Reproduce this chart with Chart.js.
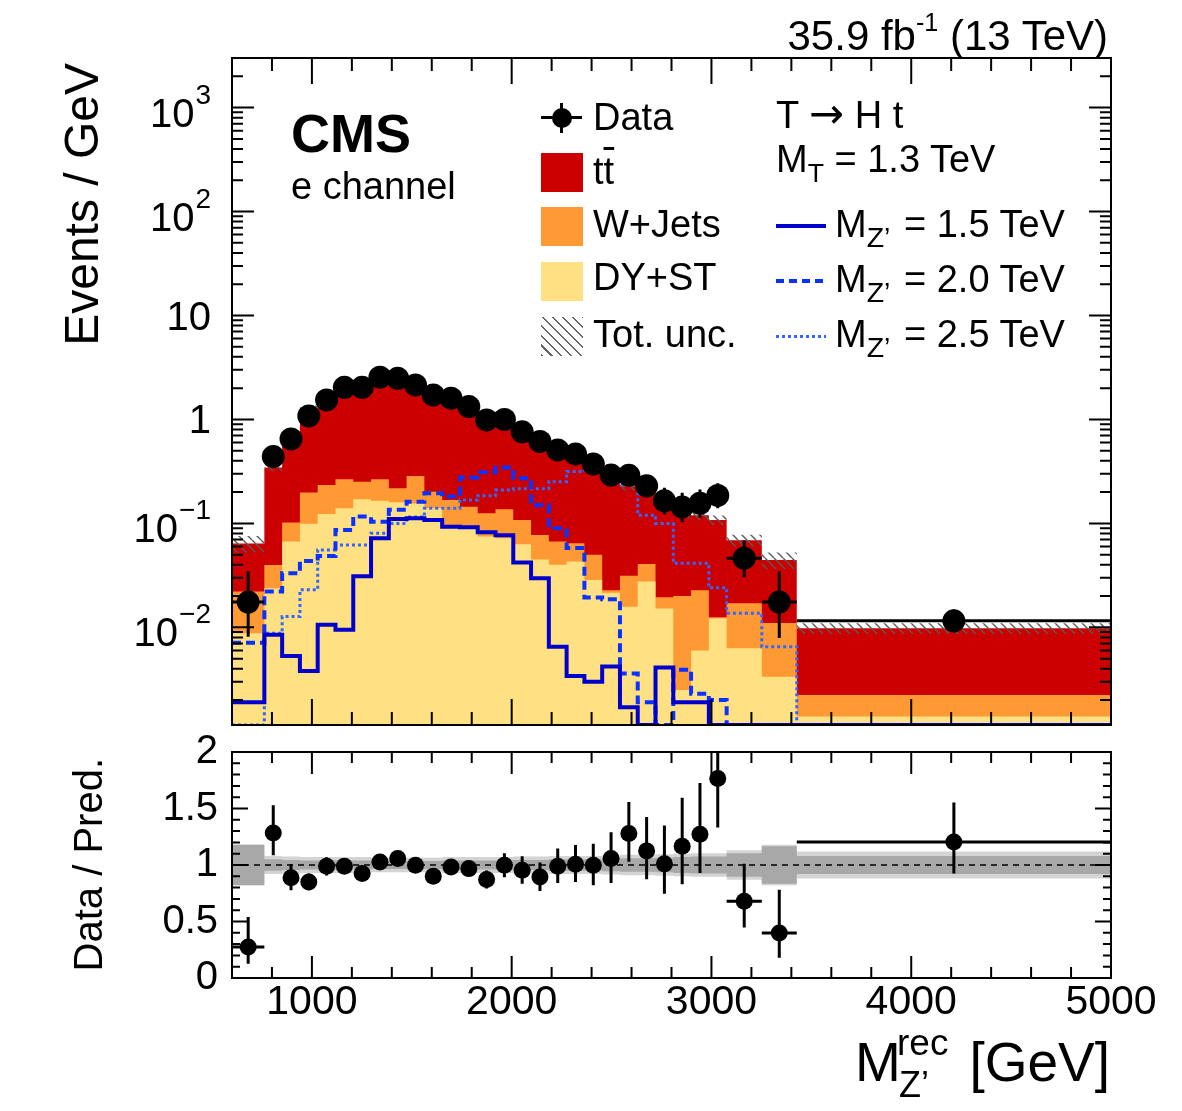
<!DOCTYPE html>
<html>
<head>
<meta charset="utf-8">
<title>M_Z' rec - e channel</title>
<script src="https://cdn.jsdelivr.net/npm/chart.js@4.4.1/dist/chart.umd.min.js"></script>
<style>
  body { margin: 0; background: #fff; font-family: "Liberation Sans", Arial, Helvetica, sans-serif; color: #000; }
  #page { position: relative; width: 1182px; height: 1111px; overflow: hidden; }
  canvas { position: absolute; left: 0; }
  .t { position: absolute; white-space: nowrap; line-height: 1; }
  .leg { font-size: 38px; }
  .box { position: absolute; left: 541px; width: 42px; height: 39px; }
  .sub { font-size: 0.7em; position: relative; top: 0.36em; }
  .subz { font-size: 0.75em; position: relative; top: 0.36em; margin-right: 3px; }
  .arrow { font-family: "DejaVu Sans", sans-serif; font-size: 1.1em; line-height: 0.9; }
  .rot { transform-origin: 0 0; transform: rotate(-90deg); text-align: right; }
  .sline { position: absolute; left: 776px; width: 50px; }
</style>
</head>
<body>
<div id="page">
  <canvas id="mainChart" width="1182" height="740" style="top:0"></canvas>
  <canvas id="ratioChart" width="1182" height="391" style="top:720px"></canvas>

  <div class="t" style="right:74px; top:15px; font-size:42px;">35.9 fb<span style="font-size:0.6em; position:relative; top:-0.75em;">-1</span> (13 TeV)</div>
  <div class="t" style="left:291px; top:106px; font-size:54px; font-weight:bold;">CMS</div>
  <div class="t" style="left:291px; top:167px; font-size:38px;">e channel</div>

  <!-- legend, left column -->
  <div style="position:absolute; left:541px; top:116px; width:41px; height:3px; background:#000;"></div>
  <div style="position:absolute; left:560px; top:103px; width:3px; height:30px; background:#000;"></div>
  <div style="position:absolute; left:552px; top:108px; width:20px; height:20px; border-radius:50%; background:#000;"></div>
  <div class="t leg" style="left:593px; top:98px;">Data</div>
  <div class="box" style="top:153px; background:#cc0000;"></div>
  <div class="t leg" style="left:593px; top:152px;">t<span style="text-decoration:overline;">t</span></div>
  <div class="box" style="top:207px; background:#ff9933;"></div>
  <div class="t leg" style="left:593px; top:205px;">W+Jets</div>
  <div class="box" style="top:262px; background:#ffe083;"></div>
  <div class="t leg" style="left:593px; top:258px;">DY+ST</div>
  <div class="box" style="top:317px; background:repeating-linear-gradient(45deg, #666 0 1.5px, transparent 1.5px 7px);"></div>
  <div class="t leg" style="left:593px; top:315px;">Tot. unc.</div>

  <!-- legend, right column -->
  <div class="t leg" style="left:776px; top:95px;">T <span class="arrow">→</span> H t</div>
  <div class="t leg" style="left:776px; top:140px;">M<span class="sub">T</span> = 1.3 TeV</div>
  <div class="sline" style="top:224px; height:4px; background:#0000cc;"></div>
  <div class="t leg" style="left:835px; top:205px;">M<span class="subz">Z’</span> = 1.5 TeV</div>
  <div class="sline" style="top:279px; height:4px; background:repeating-linear-gradient(90deg, #0a32ff 0 8px, transparent 8px 13px);"></div>
  <div class="t leg" style="left:835px; top:260px;">M<span class="subz">Z’</span> = 2.0 TeV</div>
  <div class="sline" style="top:335px; height:3px; background:repeating-linear-gradient(90deg, #3366ff 0 3px, transparent 3px 6px);"></div>
  <div class="t leg" style="left:835px; top:315px;">M<span class="subz">Z’</span> = 2.5 TeV</div>

  <!-- axis titles -->
  <div class="t rot" style="left:58px; top:363px; width:300px; font-size:48px;">Events / GeV</div>
  <div class="t rot" style="left:68px; top:1008px; width:250px; font-size:40px;">Data / Pred.</div>
  <div class="t" style="left:855px; top:1035px; font-size:55px;">M</div>
  <div class="t" style="left:897px; top:1024px; font-size:37px;">rec</div>
  <div class="t" style="left:899px; top:1067px; font-size:36px;">Z’</div>
  <div class="t" style="right:72px; top:1035px; font-size:55px;">[GeV]</div>
</div>

<script>
// bin edges [GeV]
const binEdges = [600, 762, 851, 940, 1029, 1118, 1207, 1296, 1385, 1474, 1563, 1652, 1741, 1830, 1919,
  2008, 2097, 2186, 2275, 2364, 2453, 2542, 2631, 2720, 2809, 2898, 2987, 3076, 3252, 3427, 5000];

// events / GeV
const dataVals = [0.0175, 0.439, 0.649, 1.08, 1.54, 2.04, 2.04, 2.55, 2.49, 2.15, 1.72, 1.60, 1.33, 0.99, 1.0,
  0.76, 0.614, 0.509, 0.466, 0.373, 0.292, 0.29, 0.23, 0.165, 0.144, 0.156, 0.186, 0.0463, 0.0175, 0.01155];
const ttbar = [0.0419, 0.305, 0.628, 1.072, 1.326, 1.794, 1.948, 2.214, 2.142, 1.874, 1.698, 1.462, 1.225, 1.015, 0.863,
  0.692, 0.6125, 0.448, 0.3985, 0.324, 0.253, 0.196, 0.163, 0.1445, 0.104, 0.097, 0.0955, 0.0519, 0.0335, 0.00756];
const wjets = [0.0133, 0.0161, 0.0352, 0.099, 0.111, 0.126, 0.081, 0.101, 0.058, 0.131, 0.062, 0.073, 0.055, 0.05, 0.065,
  0.045, 0.0325, 0.0268, 0.0215, 0.0214, 0.0013, 0.0155, 0.0132, 0.0043, 0.0175, 0.0168, 0.0003, 0.0108, 0.00765, 0.00085];
const dyst = [0.0088, 0.0238, 0.0668, 0.099, 0.123, 0.14, 0.171, 0.165, 0.16, 0.155, 0.14, 0.095, 0.09, 0.075, 0.072,
  0.063, 0.045, 0.04, 0.043, 0.0286, 0.0215, 0.0158, 0.0276, 0.0152, 0.0025, 0.006, 0.0122, 0.0063, 0.00335, 0.00139];

// Z' signals (T -> H t, M_T = 1.3 TeV)
const sigM1500 = [0.0019, 0.0085, 0.0053, 0.0038, 0.0106, 0.0095, 0.031, 0.072, 0.11, 0.112, 0.108, 0.093, 0.092, 0.082, 0.077,
  0.042, 0.0297, 0.0065, 0.0034, 0.003, 0.0042, 0.0017, 0, 0.0041, 0.0019, 0.0019, 0, 0, 0, 0];
const sigM2000 = [0.0071, 0.0221, 0.0332, 0.0436, 0.0487, 0.0866, 0.1165, 0.104, 0.135, 0.162, 0.195, 0.181, 0.277, 0.31, 0.345,
  0.272, 0.15, 0.09, 0.058, 0.0194, 0.0186, 0.0036, 0.0019, 0, 0.0039, 0.0023, 0.002, 0, 0, 0];
const sigM2500 = [0, 0.0088, 0.0127, 0.023, 0.0556, 0.062, 0.062, 0.0805, 0.1, 0.115, 0.14, 0.14, 0.168, 0.185, 0.21,
  0.215, 0.215, 0.252, 0.315, 0.33, 0.33, 0.235, 0.12, 0.1, 0.0413, 0.0413, 0.024, 0.0137, 0.0065, 0];

// relative uncertainties (light = total, dark = inner band)
const uncTotal = [0.18, 0.08, 0.075, 0.07, 0.07, 0.07, 0.07, 0.065, 0.065, 0.065, 0.065, 0.07, 0.07, 0.07, 0.07,
  0.075, 0.075, 0.08, 0.08, 0.08, 0.085, 0.09, 0.09, 0.095, 0.1, 0.105, 0.105, 0.13, 0.18, 0.12];
const uncInner = [0.18, 0.05, 0.045, 0.04, 0.04, 0.04, 0.04, 0.035, 0.035, 0.035, 0.035, 0.04, 0.04, 0.04, 0.04,
  0.045, 0.045, 0.05, 0.05, 0.05, 0.055, 0.06, 0.06, 0.065, 0.07, 0.075, 0.075, 0.105, 0.165, 0.08];

// data / prediction
const ratioVals = [0.274, 1.283, 0.888, 0.85, 0.988, 0.988, 0.924, 1.027, 1.057, 0.997, 0.9, 0.982, 0.968, 0.871, 0.997,
  0.953, 0.894, 0.988, 1.006, 0.997, 1.057, 1.278, 1.125, 1.01, 1.165, 1.272, 1.765, 0.679, 0.398, 1.204];
const ratioErrUp = [0.266, 0.245, 0.12, 0.075, 0.08, 0.06, 0.06, 0.06, 0.06, 0.06, 0.06, 0.065, 0.07, 0.08, 0.106,
  0.125, 0.128, 0.157, 0.17, 0.19, 0.233, 0.28, 0.3, 0.34, 0.431, 0.454, 0.55, 0.333, 0.384, 0.348];
const ratioErrDown = [0.147, 0.197, 0.112, 0.074, 0.08, 0.06, 0.06, 0.06, 0.06, 0.06, 0.06, 0.065, 0.07, 0.08, 0.106,
  0.12, 0.124, 0.147, 0.156, 0.177, 0.216, 0.25, 0.25, 0.265, 0.336, 0.343, 0.434, 0.233, 0.218, 0.28];

const yMin = 0.00115, yMax = 3000;
const yDecades = [0.01, 0.1, 1, 10, 100, 1000];
const yDecBase = ['10', '10', '1', '10', '10', '10'];
const yDecExp = ['\u22122', '\u22121', '', '', '2', '3'];
const xLabelTicks = [1000, 2000, 3000, 4000, 5000];
const ratioTicks = [0, 0.5, 1, 1.5, 2];

const FONT = '"Liberation Sans", Arial, Helvetica, sans-serif';
const nBins = binEdges.length - 1;
const centers = dataVals.map((v, i) => (binEdges[i] + binEdges[i + 1]) / 2);

function stepPts(vals, floor) {
  return binEdges.map((e, i) => {
    let v = vals[Math.min(i, nBins - 1)];
    if (floor !== undefined && !(v > floor)) v = floor;
    return { x: e, y: v };
  });
}

const wTop = dyst.map((v, i) => v + wjets[i]);
const totTop = wTop.map((v, i) => v + ttbar[i]);
const dataHi = dataVals.map((v, i) => v * (1 + ratioErrUp[i] / ratioVals[i]));
const dataLo = dataVals.map((v, i) => v * (1 - ratioErrDown[i] / ratioVals[i]));

function hatch() {
  const s = 9, c = document.createElement('canvas');
  c.width = s; c.height = s;
  const g = c.getContext('2d');
  g.strokeStyle = '#5a5a5a';
  g.lineWidth = 1.4;
  for (const o of [-s, 0, s]) { g.beginPath(); g.moveTo(o, 0); g.lineTo(o + s, s); g.stroke(); }
  return g.createPattern(c, 'repeat');
}

// error bars drawn under the markers of dataset 0
const errorBars = {
  id: 'errorBars',
  beforeDatasetDraw(chart, args, o) {
    if (args.index !== 0) return;
    const { ctx, chartArea: a, scales: { x, y } } = chart;
    ctx.save();
    ctx.beginPath(); ctx.rect(a.left, a.top, a.width, a.height); ctx.clip();
    ctx.strokeStyle = '#000'; ctx.lineWidth = 3;
    ctx.beginPath();
    o.vals.forEach((v, i) => {
      const px = x.getPixelForValue(centers[i]), py = y.getPixelForValue(v);
      const x1 = x.getPixelForValue(binEdges[i]), x2 = x.getPixelForValue(binEdges[i + 1]);
      if (x2 - x1 > 2 * o.r + 2) { ctx.moveTo(x1, py); ctx.lineTo(x2, py); }
      const lo = Math.max(o.lo[i], y.min);
      ctx.moveTo(px, y.getPixelForValue(o.hi[i])); ctx.lineTo(px, y.getPixelForValue(lo));
    });
    ctx.stroke();
    ctx.restore();
  }
};

// ROOT style frame with inward ticks on all sides
const frameTicks = {
  id: 'frameTicks',
  afterDraw(chart, args, o) {
    const { ctx, chartArea: a, scales: { x, y } } = chart;
    ctx.save();
    ctx.strokeStyle = '#000'; ctx.lineWidth = 2;
    ctx.beginPath();
    for (let v = 600; v <= 5000; v += 200) {
      const px = x.getPixelForValue(v), len = v % 1000 === 0 ? o.xMajor : o.xMajor / 2;
      ctx.moveTo(px, a.bottom); ctx.lineTo(px, a.bottom - len);
      ctx.moveTo(px, a.top); ctx.lineTo(px, a.top + len);
    }
    o.yTicks.forEach(t => {
      const py = y.getPixelForValue(t.v);
      ctx.moveTo(a.left, py); ctx.lineTo(a.left + t.len, py);
      ctx.moveTo(a.right, py); ctx.lineTo(a.right - t.len, py);
    });
    ctx.stroke();
    ctx.strokeRect(a.left, a.top, a.width, a.height);
    if (o.logLabels) {
      ctx.fillStyle = '#000'; ctx.textAlign = 'right'; ctx.textBaseline = 'alphabetic';
      yDecades.forEach((v, i) => {
        const py = y.getPixelForValue(v), xr = a.left - 21;
        if (yDecExp[i]) {
          ctx.font = '28px ' + FONT;
          const w = ctx.measureText(yDecExp[i]).width;
          ctx.fillText(yDecExp[i], xr, py - 4);
          ctx.font = '40px ' + FONT;
          ctx.fillText(yDecBase[i], xr - w - 1, py + 19);
        } else {
          ctx.font = '40px ' + FONT;
          ctx.fillText(yDecBase[i], xr, py + 14);
        }
      });
    }
    ctx.restore();
  }
};

const logTicks = [];
for (let e = -3; e <= 3; e++) for (let m = 1; m <= 9; m++) {
  const v = m * Math.pow(10, e);
  if (v >= yMin && v <= yMax) logTicks.push({ v, len: m === 1 ? 22 : 11 });
}
const linTicks = [];
for (let k = 0; k <= 20; k++) linTicks.push({ v: k / 10, len: k % 5 === 0 ? 16 : 8 });

const stepLine = (vals, color, width, dash, order) => ({
  data: stepPts(vals, yMin), stepped: true, borderColor: color, borderWidth: width,
  borderDash: dash, fill: false, pointRadius: 0, order
});

new Chart(document.getElementById('mainChart'), {
  type: 'line',
  data: {
    datasets: [
      { data: centers.map((c, i) => ({ x: c, y: dataVals[i] })), showLine: false, pointRadius: 11.5,
        pointBackgroundColor: '#000', pointBorderWidth: 0, order: 0 },
      stepLine(sigM1500, '#0000cc', 4, [], 1),
      stepLine(sigM2000, '#0a32ff', 4, [9, 5], 2),
      stepLine(sigM2500, '#3366ff', 3, [3, 3], 3),
      { data: stepPts(totTop.map((v, i) => v * (1 + uncTotal[i]))), stepped: true, borderColor: 'rgba(0,0,0,0)',
        backgroundColor: hatch(), fill: '+1', pointRadius: 0, order: 4 },
      { data: stepPts(totTop.map((v, i) => v * (1 - uncTotal[i]))), stepped: true, borderColor: 'rgba(0,0,0,0)',
        fill: false, pointRadius: 0, order: 5 },
      { data: stepPts(dyst), stepped: true, borderColor: 'rgba(0,0,0,0)', backgroundColor: '#ffe083',
        fill: 'start', pointRadius: 0, order: 6 },
      { data: stepPts(wTop), stepped: true, borderColor: 'rgba(0,0,0,0)', backgroundColor: '#ff9933',
        fill: 'start', pointRadius: 0, order: 7 },
      { data: stepPts(totTop), stepped: true, borderColor: 'rgba(0,0,0,0)', backgroundColor: '#cc0000',
        fill: 'start', pointRadius: 0, order: 8 }
    ]
  },
  options: {
    responsive: false, animation: false, events: [],
    layout: { padding: { left: 232, right: 71, top: 58, bottom: 15 } },
    scales: {
      x: { type: 'linear', min: 600, max: 5000, display: false },
      y: { type: 'logarithmic', min: yMin, max: yMax, display: false }
    },
    plugins: {
      legend: { display: false }, tooltip: { enabled: false },
      errorBars: { vals: dataVals, lo: dataLo, hi: dataHi, r: 11.5 },
      frameTicks: { xMajor: 26, yTicks: logTicks, logLabels: true }
    }
  },
  plugins: [errorBars, frameTicks]
});

const bandPts = (unc, sign) => stepPts(unc.map(u => 1 + sign * u));

new Chart(document.getElementById('ratioChart'), {
  type: 'line',
  data: {
    datasets: [
      { data: centers.map((c, i) => ({ x: c, y: ratioVals[i] })), showLine: false, pointRadius: 8.5,
        pointBackgroundColor: '#000', pointBorderWidth: 0, order: 0 },
      { data: [{ x: 600, y: 1 }, { x: 5000, y: 1 }], borderColor: '#000', borderWidth: 1.5, borderDash: [6, 5],
        pointRadius: 0, fill: false, order: 1 },
      { data: bandPts(uncInner, 1), stepped: true, borderColor: 'rgba(0,0,0,0)', backgroundColor: '#a8a8a8',
        fill: '+1', pointRadius: 0, order: 2 },
      { data: bandPts(uncInner, -1), stepped: true, borderColor: 'rgba(0,0,0,0)', fill: false, pointRadius: 0, order: 3 },
      { data: bandPts(uncTotal, 1), stepped: true, borderColor: 'rgba(0,0,0,0)', backgroundColor: '#d4d4d4',
        fill: '+1', pointRadius: 0, order: 4 },
      { data: bandPts(uncTotal, -1), stepped: true, borderColor: 'rgba(0,0,0,0)', fill: false, pointRadius: 0, order: 5 }
    ]
  },
  options: {
    responsive: false, animation: false, events: [],
    layout: { padding: { left: 0, right: 71, top: 32, bottom: 0 } },
    scales: {
      x: {
        type: 'linear', min: 600, max: 5000,
        afterBuildTicks: s => { s.ticks = xLabelTicks.map(v => ({ value: v })); },
        afterFit: s => { s.height = 133; s.paddingLeft = 0; s.paddingRight = 0; },
        grid: { display: false, drawTicks: false }, border: { display: false },
        ticks: { font: { family: FONT, size: 41, lineHeight: 1.2 }, color: '#000', padding: 0,
          maxRotation: 0, autoSkip: false, callback: v => String(v) }
      },
      y: {
        min: 0, max: 2,
        afterBuildTicks: s => { s.ticks = ratioTicks.map(v => ({ value: v })); },
        afterFit: s => { s.width = 232; s.paddingTop = 0; s.paddingBottom = 0; },
        grid: { display: false, drawTicks: false }, border: { display: false },
        ticks: { font: { family: FONT, size: 40 }, color: '#000', padding: 14, callback: v => String(v) }
      }
    },
    plugins: {
      legend: { display: false }, tooltip: { enabled: false },
      errorBars: { vals: ratioVals, lo: ratioVals.map((v, i) => v - ratioErrDown[i]),
        hi: ratioVals.map((v, i) => v + ratioErrUp[i]), r: 8.5 },
      frameTicks: { xMajor: 22, yTicks: linTicks, logLabels: false }
    }
  },
  plugins: [errorBars, frameTicks]
});
</script>
</body>
</html>
